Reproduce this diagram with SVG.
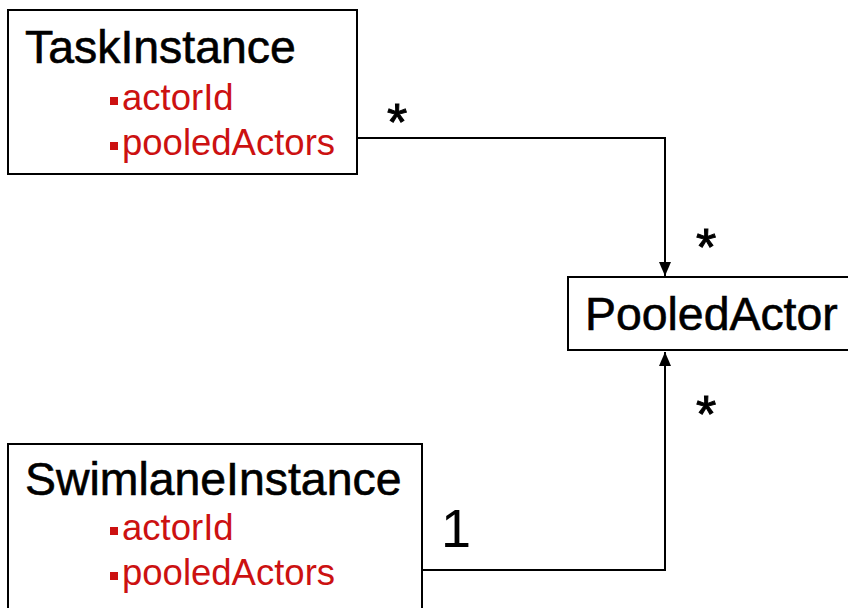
<svg xmlns="http://www.w3.org/2000/svg" width="848" height="608" viewBox="0 0 848 608">
  <style>
    .box { fill: #ffffff; stroke: #000000; stroke-width: 2; }
    .title { font-family: "Liberation Sans", Arial, sans-serif; font-size: 46.4px; fill: #000000; stroke: #000000; stroke-width: 0.6; }
    .attr { font-family: "Liberation Sans", Arial, sans-serif; font-size: 36.5px; fill: #cc1111; }
    .bullet { fill: #cc1111; }
    .mult { font-family: "Liberation Sans", Arial, sans-serif; font-size: 52px; fill: #000000; stroke: #000000; stroke-width: 1; text-anchor: middle; }
    .one { font-family: "Liberation Sans", Arial, sans-serif; font-size: 54px; fill: #000000; }
    .link { fill: none; stroke: #000000; stroke-width: 2; }
  </style>
  <defs>
    <marker id="arrow" viewBox="0 0 14 14" refX="14" refY="7" markerWidth="14" markerHeight="14" markerUnits="userSpaceOnUse" orient="auto">
      <path d="M0,1 L14,7 L0,13 Z" fill="#000000"/>
    </marker>
  </defs>
  <rect width="848" height="608" fill="#ffffff"/>

  <g id="connectors">
    <polyline class="link" points="357,138 665,138 665,276" marker-end="url(#arrow)"/>
    <polyline class="link" points="422,570 665,570 665,352" marker-end="url(#arrow)"/>
    <text class="mult" x="397" y="140">*</text>
    <text class="mult" x="706" y="265">*</text>
    <text class="mult" x="706" y="432">*</text>
    <text class="one" x="441" y="547">1</text>
  </g>

  <g id="TaskInstance">
    <rect class="box" x="8" y="10" width="349" height="164"/>
    <text class="title" x="25" y="63">TaskInstance</text>
    <rect class="bullet" x="110" y="97" width="8" height="8"/>
    <text class="attr" x="122" y="110">actorId</text>
    <rect class="bullet" x="110" y="142" width="8" height="8"/>
    <text class="attr" x="122" y="155">pooledActors</text>
  </g>

  <g id="PooledActor">
    <rect class="box" x="568" y="277" width="300" height="73"/>
    <text class="title" x="585" y="330">PooledActor</text>
  </g>

  <g id="SwimlaneInstance">
    <rect class="box" x="8" y="444" width="414" height="200"/>
    <text class="title" x="25" y="495">SwimlaneInstance</text>
    <rect class="bullet" x="110" y="527" width="8" height="8"/>
    <text class="attr" x="122" y="540">actorId</text>
    <rect class="bullet" x="110" y="572" width="8" height="8"/>
    <text class="attr" x="122" y="585">pooledActors</text>
  </g>
</svg>
